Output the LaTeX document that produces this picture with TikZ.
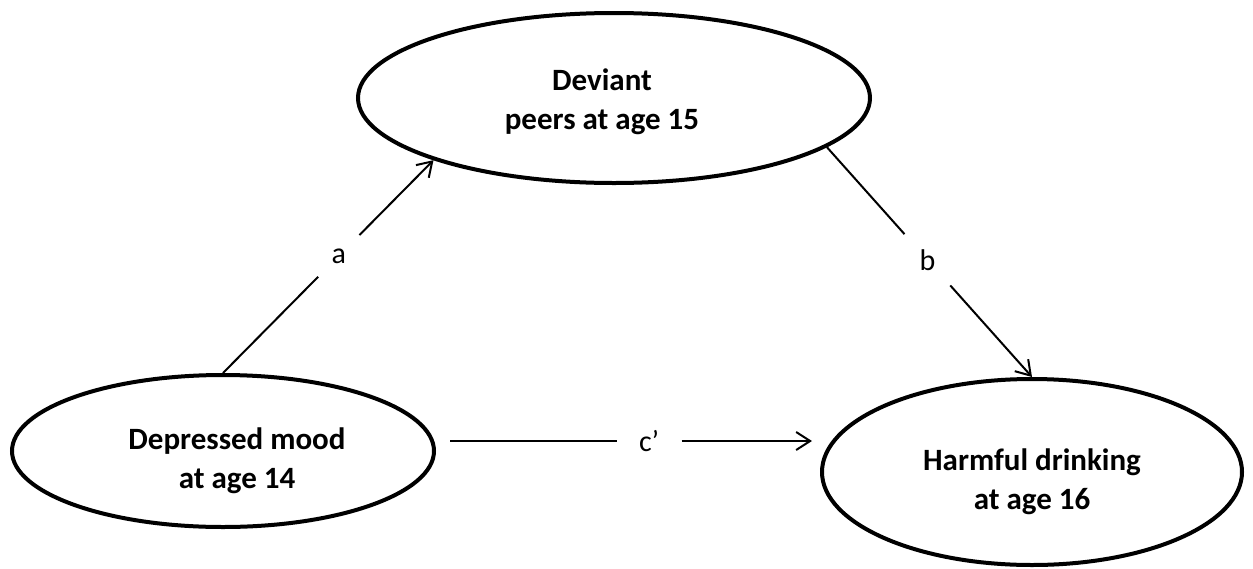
\documentclass[tikz,border=0pt]{standalone}
\usepackage{fontspec}
\setmainfont{Carlito}
\usetikzlibrary{shapes.geometric,arrows.meta}
\tikzset{
  var/.style={ellipse, draw, line width=2pt, inner sep=0pt},
  vartext/.style={align=center, inner sep=0pt, font=\fontsize{15.5}{19.5}\selectfont\bfseries},
  arr/.style={line width=1pt, -{Straight Barb[length=7pt,width=9pt,line width=1pt]}},
  seg/.style={line width=1pt},
  lbl/.style={circle, inner sep=0pt, font=\fontsize{15}{16}\selectfont}
}
\begin{document}
\begin{tikzpicture}[x=0.5pt,y=-0.5pt]
\useasboundingbox (0,0) rectangle (1253,568);
\node[var, minimum width=256pt, minimum height=85pt] (dev) at (614,98) {};
\node[var, minimum width=211pt, minimum height=76pt] (dep) at (223,451) {};
\node[var, minimum width=210pt, minimum height=93pt] (harm) at (1032,472) {};
\node[vartext] (devt) at (602,102) {Deviant\\peers at age 15};
\node[vartext] (dept) at (237,461) {Depressed mood\\at age 14};
\node[vartext] (harmt) at (1032,482) {Harmful drinking\\at age 16};
% path a
\path (dep.north) -- node[lbl, minimum size=29pt, pos=0.55] (la) {a} (dev.199);
\draw[seg] (dep.north) -- (la);
\draw[arr] (la) -- (dev.199);
% path b
\path (dev.-13) -- node[lbl, minimum size=34pt, pos=0.49] (lb) {b} (harm.north);
\draw[seg] (dev.-13) -- (lb);
\draw[arr] (lb) -- (harm.north);
% path c'
\coordinate (cs) at (450,441);
\coordinate (ce) at (812,441);
\path (cs) -- node[lbl, minimum size=32pt, pos=0.55] (lc) {c’} (ce);
\draw[seg] (cs) -- (lc);
\draw[arr] (lc) -- (ce);
\end{tikzpicture}
\end{document}
